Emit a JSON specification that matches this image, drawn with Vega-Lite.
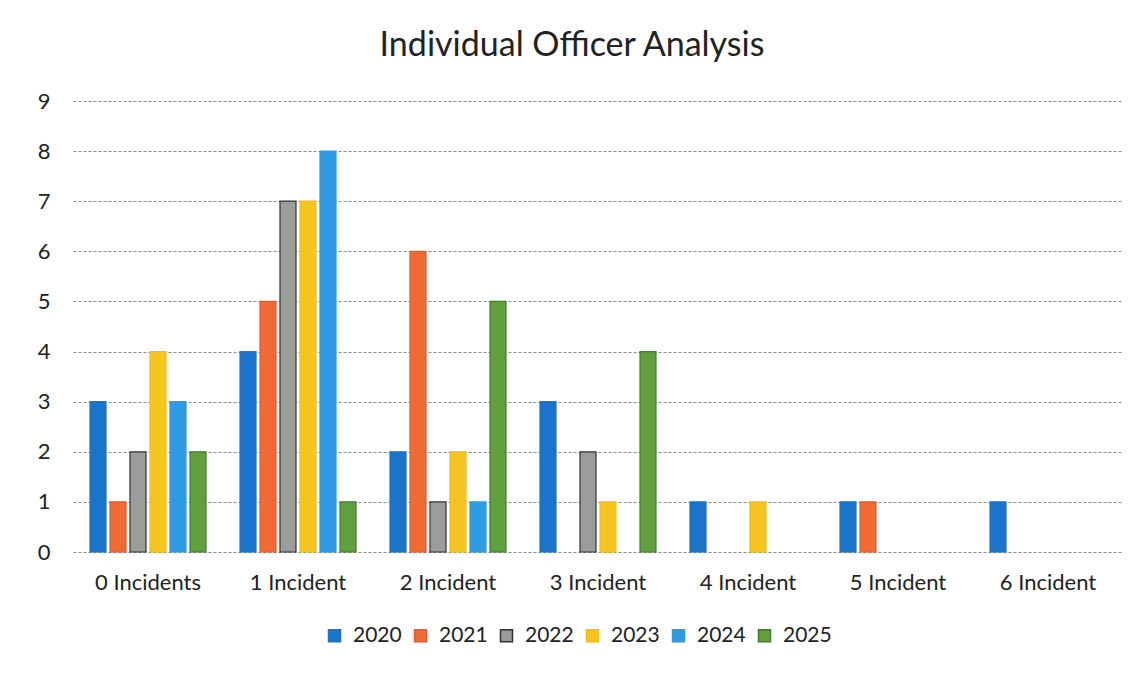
{
  "$schema": "https://vega.github.io/schema/vega-lite/v6.json",
  "width": 1050,
  "height": 451,
  "autosize": "none",
  "padding": {"left": 73, "top": 101, "right": 21, "bottom": 125},
  "background": "#ffffff",
  "title": {
    "text": "Individual Officer Analysis",
    "font": "Lato",
    "fontSize": 34,
    "fontWeight": "normal",
    "color": "#222222",
    "anchor": "middle",
    "offset": 27,
    "dx": -26
  },
  "config": {
    "view": {"stroke": null},
    "font": "Lato"
  },
  "data": {
    "values": [
      {"category": "0 Incidents", "year": "2020", "count": 3},
      {"category": "0 Incidents", "year": "2021", "count": 1},
      {"category": "0 Incidents", "year": "2022", "count": 2},
      {"category": "0 Incidents", "year": "2023", "count": 4},
      {"category": "0 Incidents", "year": "2024", "count": 3},
      {"category": "0 Incidents", "year": "2025", "count": 2},
      {"category": "1 Incident", "year": "2020", "count": 4},
      {"category": "1 Incident", "year": "2021", "count": 5},
      {"category": "1 Incident", "year": "2022", "count": 7},
      {"category": "1 Incident", "year": "2023", "count": 7},
      {"category": "1 Incident", "year": "2024", "count": 8},
      {"category": "1 Incident", "year": "2025", "count": 1},
      {"category": "2 Incident", "year": "2020", "count": 2},
      {"category": "2 Incident", "year": "2021", "count": 6},
      {"category": "2 Incident", "year": "2022", "count": 1},
      {"category": "2 Incident", "year": "2023", "count": 2},
      {"category": "2 Incident", "year": "2024", "count": 1},
      {"category": "2 Incident", "year": "2025", "count": 5},
      {"category": "3 Incident", "year": "2020", "count": 3},
      {"category": "3 Incident", "year": "2021", "count": 0},
      {"category": "3 Incident", "year": "2022", "count": 2},
      {"category": "3 Incident", "year": "2023", "count": 1},
      {"category": "3 Incident", "year": "2024", "count": 0},
      {"category": "3 Incident", "year": "2025", "count": 4},
      {"category": "4 Incident", "year": "2020", "count": 1},
      {"category": "4 Incident", "year": "2021", "count": 0},
      {"category": "4 Incident", "year": "2022", "count": 0},
      {"category": "4 Incident", "year": "2023", "count": 1},
      {"category": "4 Incident", "year": "2024", "count": 0},
      {"category": "4 Incident", "year": "2025", "count": 0},
      {"category": "5 Incident", "year": "2020", "count": 1},
      {"category": "5 Incident", "year": "2021", "count": 1},
      {"category": "5 Incident", "year": "2022", "count": 0},
      {"category": "5 Incident", "year": "2023", "count": 0},
      {"category": "5 Incident", "year": "2024", "count": 0},
      {"category": "5 Incident", "year": "2025", "count": 0},
      {"category": "6 Incident", "year": "2020", "count": 1},
      {"category": "6 Incident", "year": "2021", "count": 0},
      {"category": "6 Incident", "year": "2022", "count": 0},
      {"category": "6 Incident", "year": "2023", "count": 0},
      {"category": "6 Incident", "year": "2024", "count": 0},
      {"category": "6 Incident", "year": "2025", "count": 0}
    ]
  },
  "transform": [{"filter": "datum.count > 0"}],
  "mark": {"type": "bar", "strokeWidth": 1.2},
  "encoding": {
    "x": {
      "field": "category",
      "type": "nominal",
      "sort": ["0 Incidents", "1 Incident", "2 Incident", "3 Incident", "4 Incident", "5 Incident", "6 Incident"],
      "scale": {"paddingInner": 0.2, "paddingOuter": 0.1},
      "axis": {
        "title": null,
        "labelAngle": 0,
        "labelFontSize": 22,
        "labelColor": "#222222",
        "labelPadding": 20,
        "ticks": false,
        "domain": false,
        "grid": false
      }
    },
    "xOffset": {
      "field": "year",
      "type": "nominal",
      "scale": {"domain": ["2020", "2021", "2022", "2023", "2024", "2025"], "paddingInner": 0.2, "paddingOuter": 0.1}
    },
    "y": {
      "field": "count",
      "type": "quantitative",
      "scale": {"domain": [0, 9], "nice": false},
      "axis": {
        "title": null,
        "values": [0, 1, 2, 3, 4, 5, 6, 7, 8, 9],
        "labelOverlap": false,
        "labelFontSize": 22,
        "labelColor": "#222222",
        "labelPadding": 23,
        "ticks": false,
        "domain": false,
        "grid": true,
        "gridColor": "#8a8a8a",
        "gridDash": [3, 2],
        "gridWidth": 1
      }
    },
    "fill": {
      "field": "year",
      "type": "nominal",
      "title": null,
      "scale": {
        "domain": ["2020", "2021", "2022", "2023", "2024", "2025"],
        "range": ["#1b74c9", "#f06a35", "#9b9d9b", "#f6c520", "#2f9be2", "#62a03f"]
      },
      "legend": {
        "orient": "none",
        "legendX": 251,
        "legendY": 524,
        "direction": "horizontal",
        "symbolType": "square",
        "symbolSize": 144,
        "labelFontSize": 21,
        "labelColor": "#222222",
        "columnPadding": 8,
        "labelOffset": 8
      }
    },
    "stroke": {
      "field": "year",
      "type": "nominal",
      "title": null,
      "scale": {
        "domain": ["2020", "2021", "2022", "2023", "2024", "2025"],
        "range": ["#1b74c9", "#e8582a", "#333333", "#f2bd18", "#2f9be2", "#3f7d2a"]
      }
    }
  }
}
